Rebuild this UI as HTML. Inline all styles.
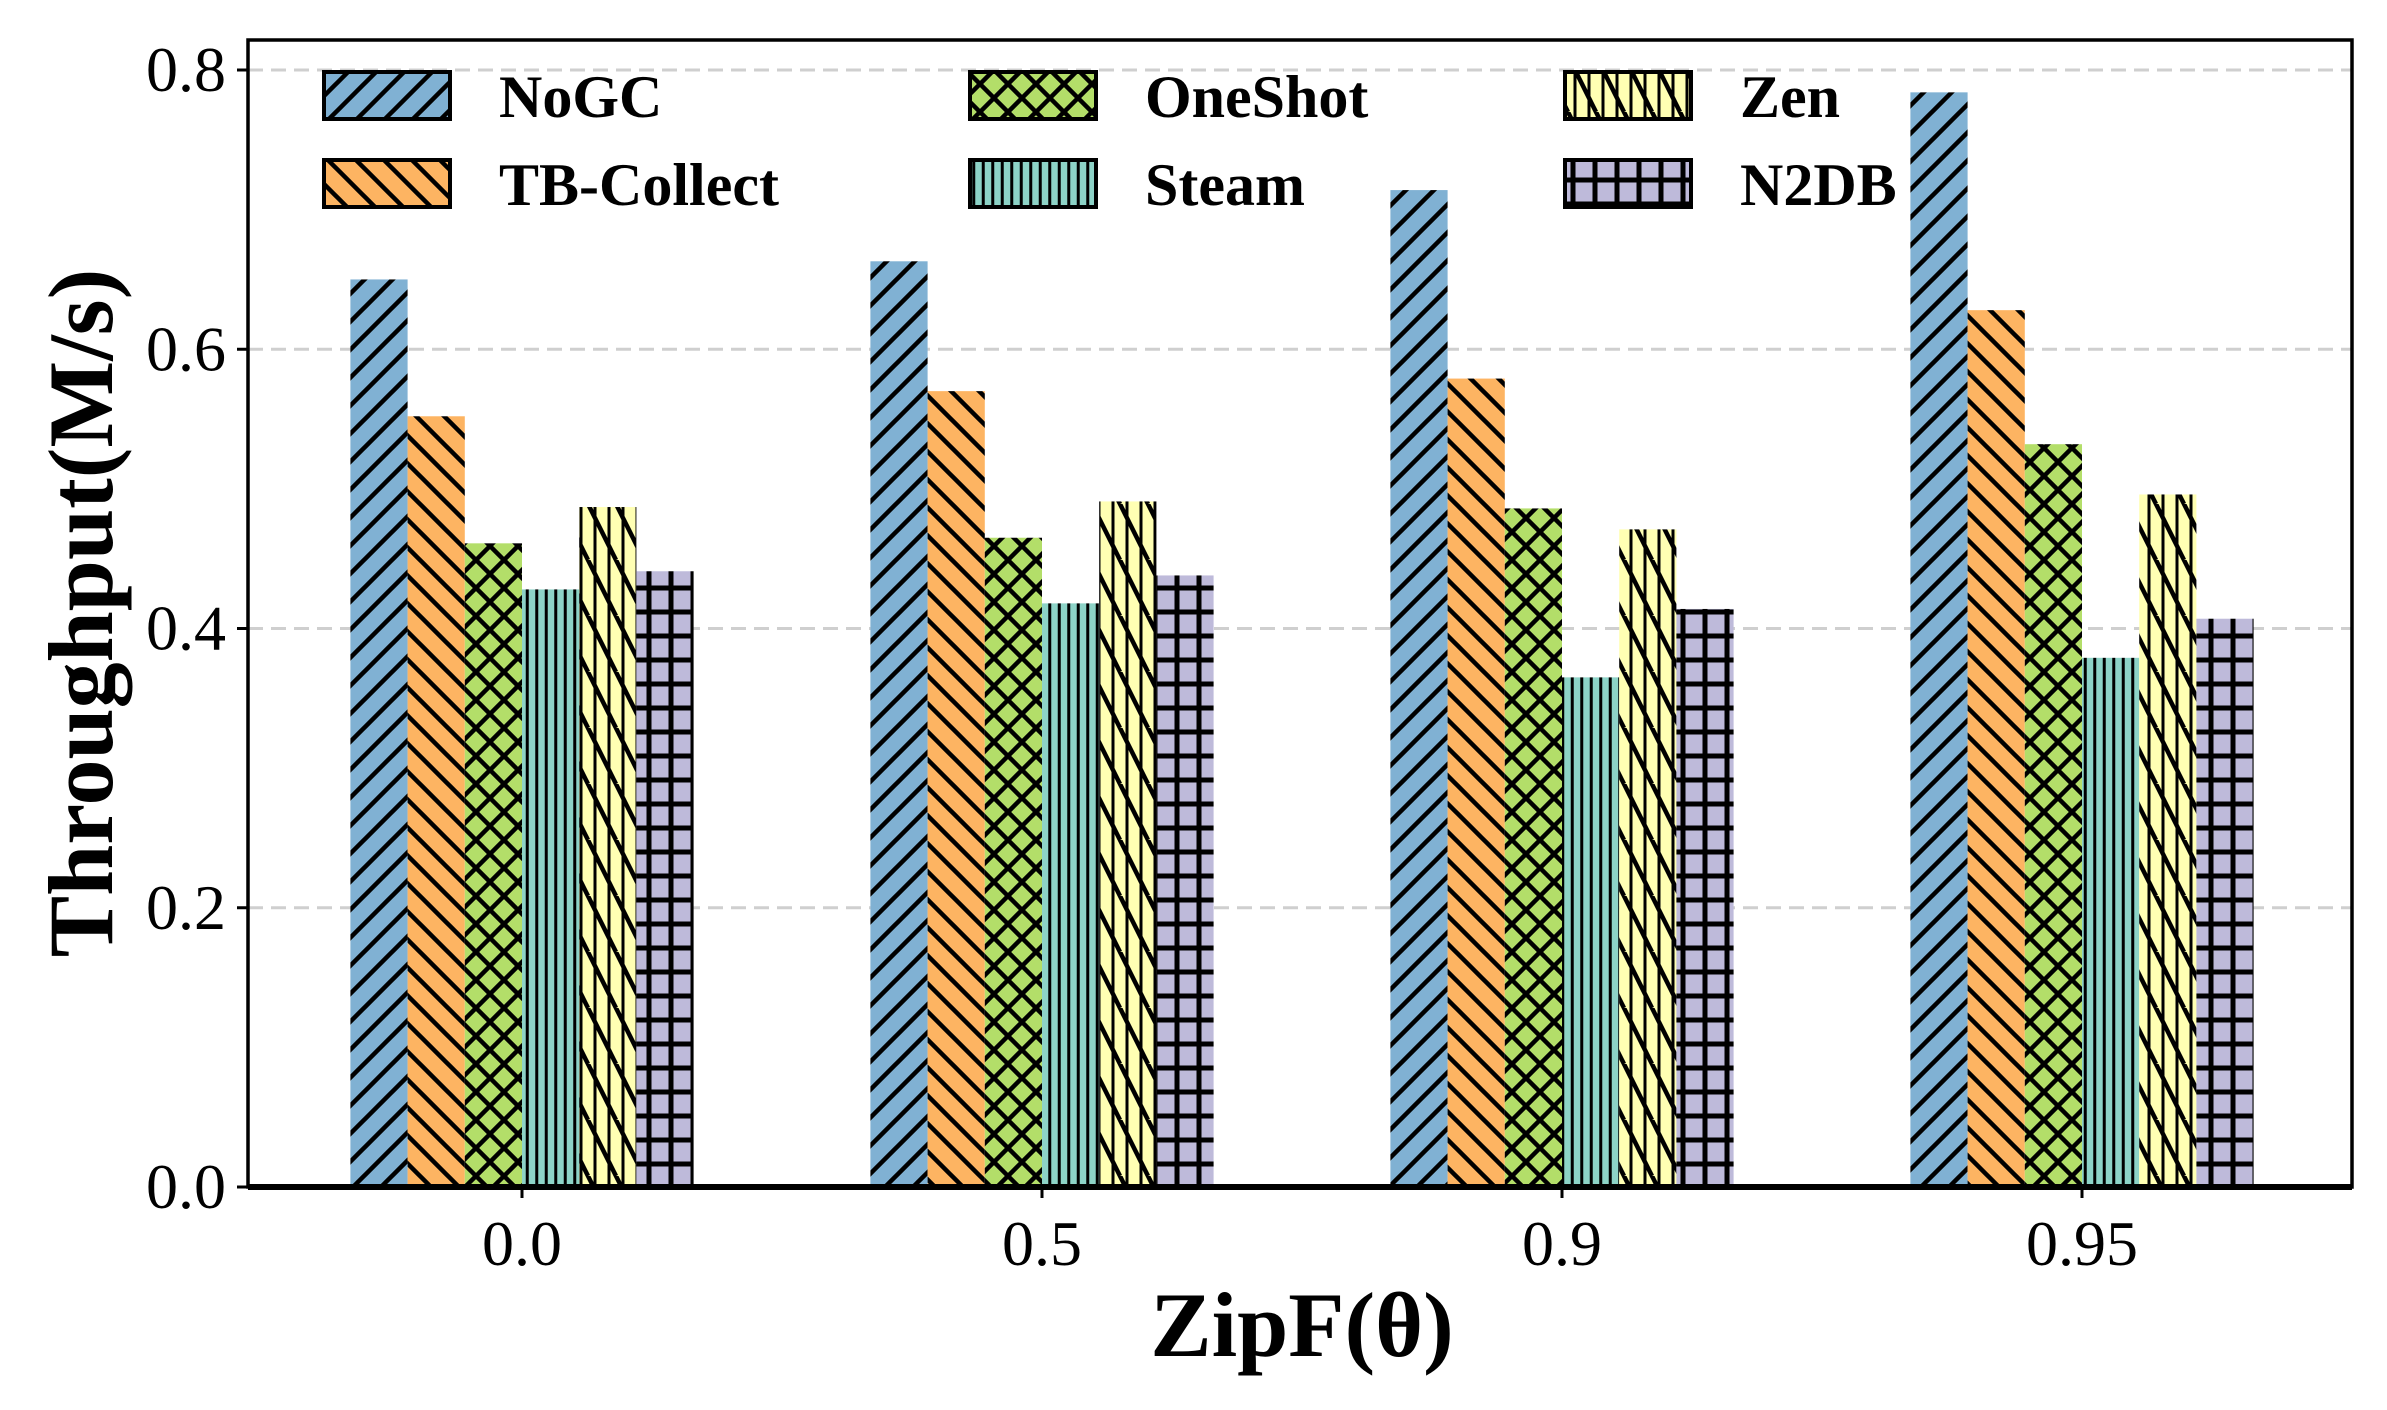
<!DOCTYPE html>
<html><head><meta charset="utf-8"><style>
html,body{margin:0;padding:0;background:#fff;}
svg{display:block;font-family:"Liberation Serif",serif;}
</style></head><body>
<svg id="chart" width="2387" height="1410" viewBox="0 0 2387 1410">
<defs>
<pattern id="p0" patternUnits="userSpaceOnUse" width="28" height="28"><rect width="28" height="28" fill="#80b1d3"/><path d="M-7,7 L7,-7 M0,28 L28,0 M21,35 L35,21" stroke="#000" stroke-width="4.5"/></pattern>
<pattern id="p1" patternUnits="userSpaceOnUse" width="28" height="28"><rect width="28" height="28" fill="#fdb462"/><path d="M-7,21 L7,35 M0,0 L28,28 M21,-7 L35,7" stroke="#000" stroke-width="4.5"/></pattern>
<pattern id="p2" patternUnits="userSpaceOnUse" width="28" height="28"><rect width="28" height="28" fill="#b3de69"/><path d="M-7,7 L7,-7 M0,28 L28,0 M21,35 L35,21 M-7,21 L7,35 M0,0 L28,28 M21,-7 L35,7" stroke="#000" stroke-width="4.5"/></pattern>
<pattern id="p3" patternUnits="userSpaceOnUse" width="9.5" height="20"><rect width="9.5" height="20" fill="#8dd3c7"/><path d="M4.75,0 L4.75,20" stroke="#000" stroke-width="3"/></pattern>
<pattern id="p4" patternUnits="userSpaceOnUse" width="28" height="56"><rect width="28" height="56" fill="#ffffb3"/><path d="M7,0 L7,56 M21,0 L21,56" stroke="#000" stroke-width="3"/><path d="M-14,28 L0,56 M0,0 L28,56 M14,-28 L42,28 M14,28 L28,56" stroke="#000" stroke-width="4.5"/></pattern>
<pattern id="p5" patternUnits="userSpaceOnUse" width="22" height="24"><rect width="22" height="24" fill="#bebada"/><path d="M11,0 L11,24 M0,12 L22,12" stroke="#000" stroke-width="5"/></pattern>
</defs>
<g id="grid"></g>
<g id="bars"></g>
<g id="axes"></g>
<g id="legend"></g>
</svg>
<script>
const categories = ["0.0", "0.5", "0.9", "0.95"];
const seriesNames = ["NoGC", "TB-Collect", "OneShot", "Steam", "Zen", "N2DB"];
const noGC      = [0.650, 0.663, 0.714, 0.784];
const tbCollect = [0.552, 0.570, 0.579, 0.628];
const oneShot   = [0.461, 0.465, 0.486, 0.532];
const steam     = [0.428, 0.418, 0.365, 0.379];
const zen       = [0.487, 0.491, 0.471, 0.496];
const n2db      = [0.441, 0.438, 0.414, 0.407];
const yTicks = ["0.0", "0.2", "0.4", "0.6", "0.8"];

const series = [noGC, tbCollect, oneShot, steam, zen, n2db];
const NS = "http://www.w3.org/2000/svg";
const L = 248, R = 2352, T = 40, B = 1187;
const yScale = v => B - v * (B - 70) / 0.8;
const xScale = i => 522 + i * 520;
const barW = 57.2;

function mk(tag, attrs, parent) {
  const e = document.createElementNS(NS, tag);
  for (const k in attrs) e.setAttribute(k, attrs[k]);
  parent.appendChild(e);
  return e;
}
const grid = document.getElementById('grid');
const bars = document.getElementById('bars');
const axes = document.getElementById('axes');
const legend = document.getElementById('legend');

yTicks.forEach(t => {
  const y = yScale(parseFloat(t));
  if (parseFloat(t) > 0) {
    const g = mk('line', {x1: L, x2: R, y1: y, y2: y, stroke: '#cfcfcf', 'stroke-width': 3, 'stroke-dasharray': '15 8'}, grid);
    
    
  }
  const tk = mk('line', {x1: L - 11, x2: L, y1: y, y2: y, stroke: '#000', 'stroke-width': 3}, axes);
  
  
  const lb = mk('text', {x: 226, y: y + 21, 'text-anchor': 'end', 'font-size': 64}, axes);
  lb.textContent = t;
  
  
});

categories.forEach((c, i) => {
  const cx = xScale(i);
  series.forEach((s, j) => {
    const x = cx - 3 * barW + j * barW;
    const y = yScale(s[i]);
    const r = mk('rect', {x: x, y: y, width: barW, height: B - y, fill: 'url(#p' + j + ')'}, bars);
    
    
  });
  const tk = mk('line', {x1: cx, x2: cx, y1: B, y2: B + 11, stroke: '#000', 'stroke-width': 3}, axes);
  
  
  const lb = mk('text', {x: cx, y: 1265, 'text-anchor': 'middle', 'font-size': 64}, axes);
  lb.textContent = c;
  
  
});

const frame = mk('rect', {x: L, y: T, width: R - L, height: B - T, fill: 'none', stroke: '#000', 'stroke-width': 3.5}, axes);


const base = mk('line', {x1: L, x2: R, y1: B, y2: B, stroke: '#000', 'stroke-width': 6}, axes);



const yt = mk('text', {x: 0, y: 0, transform: 'translate(112,613) rotate(-90)', 'text-anchor': 'middle', 'font-size': 92, 'font-weight': 'bold'}, axes);
yt.textContent = 'Throughput(M/s)';


const xt = mk('text', {x: 1302, y: 1356, 'text-anchor': 'middle', 'font-size': 92, 'font-weight': 'bold'}, axes);
xt.textContent = 'ZipF(θ)';



const colX = [324, 970, 1565];
const rowY = [72, 160];
seriesNames.forEach((n, j) => {
  const col = Math.floor(j / 2), row = j % 2;
  const g = mk('g', {}, legend);
  
  
  mk('rect', {x: colX[col], y: rowY[row], width: 126, height: 47, fill: 'url(#p' + j + ')', stroke: '#000', 'stroke-width': 4}, g);
  const t = mk('text', {x: colX[col] + 175, y: rowY[row] + 45, 'font-size': 60, 'font-weight': 'bold'}, g);
  t.textContent = n;
});
</script>
</body></html>
